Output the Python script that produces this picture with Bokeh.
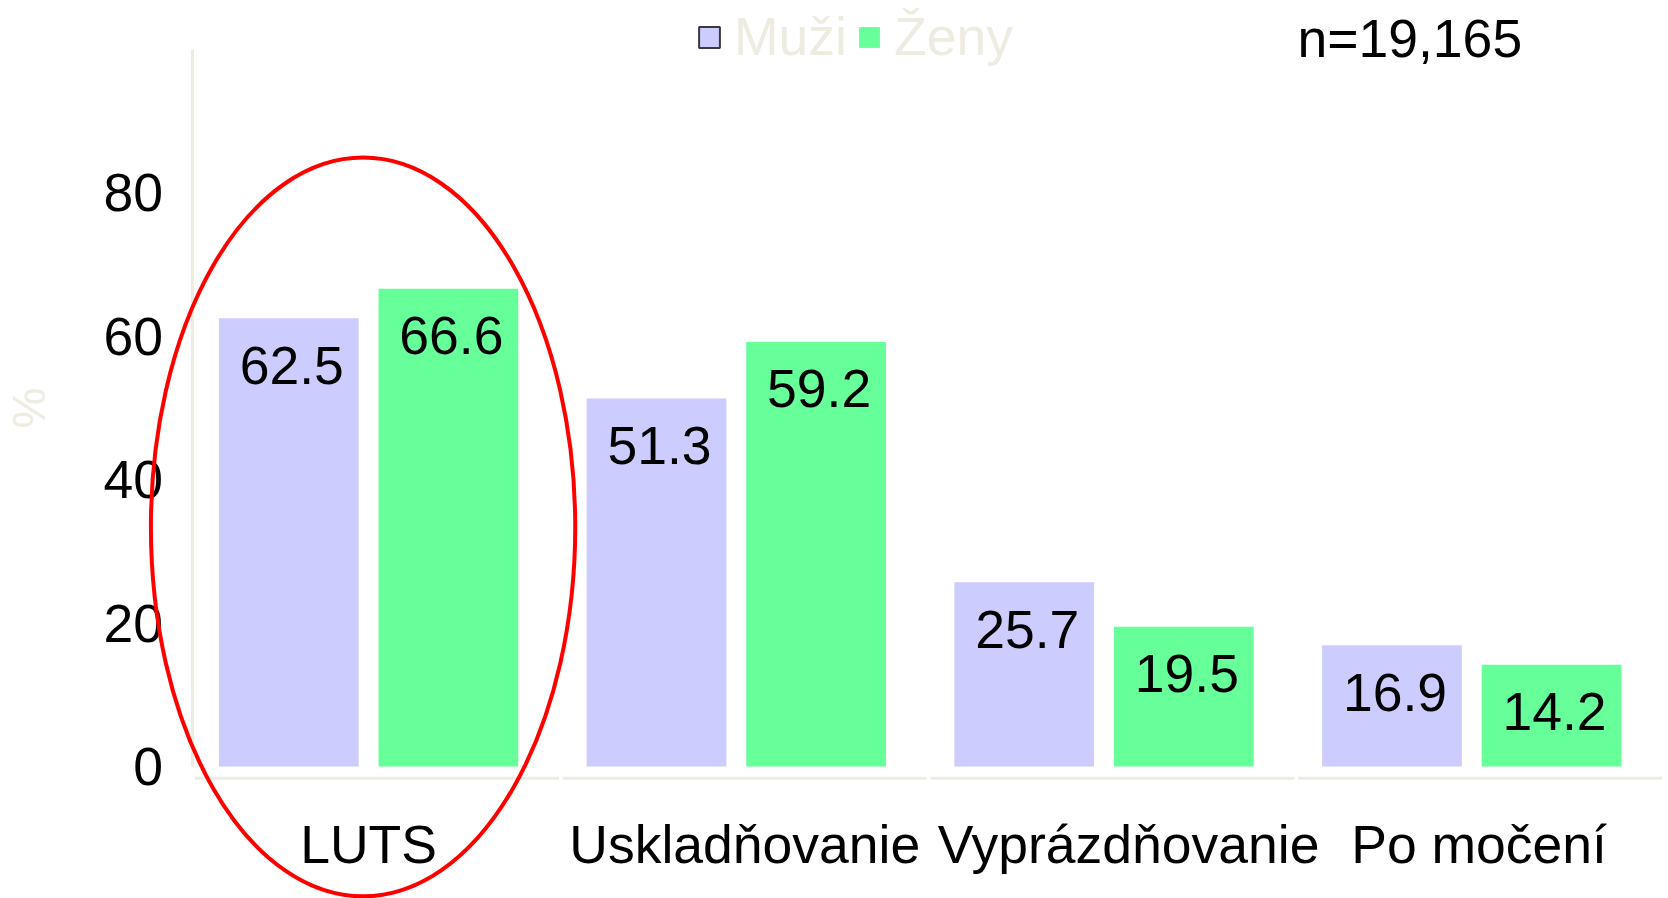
from bokeh.plotting import figure
from bokeh.models import Range1d, FixedTicker, Legend, LegendItem, Label, ColumnDataSource
from bokeh.embed import file_html
from bokeh.resources import INLINE
from bokeh.transform import dodge

# ---- data ----
categories = ["LUTS", "Uskladňovanie", "Vyprázdňovanie", "Po močení"]
series = ["Muži", "Ženy"]
muzi = [62.5, 51.3, 25.7, 16.9]
zeny = [66.6, 59.2, 19.5, 14.2]
y_ticks = [0, 20, 40, 60, 80]
y_axis_label = "%"
sample_note = "n=19,165"
highlight = "LUTS"

# ---- styles ----
FONT = "Liberation Sans"
FS = "53.5px"
C_M = "#CCCCFF"
C_Z = "#66FF99"
C_AX = "#EEECE1"
# small horizontal nudges of the category labels (style, in category widths)
LABEL_NUDGE = [0.0, 0.023, 0.067, 0.02]

idx = list(range(len(categories)))
src = ColumnDataSource(dict(
    i=idx,
    muzi=muzi,
    zeny=zeny,
    muzi_lbl=[f"{v:.1f}" for v in muzi],
    zeny_lbl=[f"{v:.1f}" for v in zeny],
))

W, H = 1668, 898
p = figure(width=W, height=H,
           x_range=Range1d(-1.001, 3.535), y_range=Range1d(-18.4, 106.8),
           output_backend="svg", toolbar_location=None, min_border=0)
p.outline_line_color = None
p.xgrid.visible = False
p.ygrid.visible = False
p.background_fill_color = "white"

OFF = 0.217
BW = 0.38
p.vbar(x=dodge("i", -OFF), top="muzi", width=BW, source=src,
       fill_color=C_M, line_color=None)
p.vbar(x=dodge("i", OFF), top="zeny", width=BW, source=src,
       fill_color=C_Z, line_color=None)

for col, off in (("muzi", -OFF), ("zeny", OFF)):
    p.text(x=dodge("i", off), y=col, text=col + "_lbl", source=src,
           x_offset=3, y_offset=47,
           text_align="center", text_baseline="middle",
           text_font={"value": FONT}, text_font_size={"value": FS},
           text_color="black")

# segmented x-axis line (one piece per category)
X_AXIS_Y = -1.62
p.segment(x0=[i - 0.472 for i in idx], x1=[i + 0.518 for i in idx],
          y0=[X_AXIS_Y] * len(idx), y1=[X_AXIS_Y] * len(idx),
          line_color=C_AX, line_width=3)

# x axis (category labels)
tick_pos = [i + n for i, n in zip(idx, LABEL_NUDGE)]
xa = p.xaxis[0]
xa.fixed_location = X_AXIS_Y
xa.ticker = FixedTicker(ticks=tick_pos)
xa.major_label_overrides = {t: c for t, c in zip(tick_pos, categories)}
xa.axis_line_color = None
xa.major_tick_line_color = None
xa.minor_tick_line_color = None
xa.major_tick_out = 0
xa.major_tick_in = 0
xa.major_label_standoff = 37
xa.major_label_text_font = FONT
xa.major_label_text_font_size = FS
xa.major_label_text_color = "black"

# y axis
ya = p.yaxis[0]
ya.fixed_location = -0.4776
ya.bounds = (0, 100)
ya.ticker = FixedTicker(ticks=y_ticks)
ya.axis_line_color = C_AX
ya.axis_line_width = 3
ya.major_tick_line_color = None
ya.minor_tick_line_color = None
ya.major_tick_out = 0
ya.major_tick_in = 0
ya.major_label_standoff = 30
ya.major_label_text_font = FONT
ya.major_label_text_font_size = FS
ya.major_label_text_color = "black"
ya.axis_label = y_axis_label
ya.axis_label_text_font = FONT
ya.axis_label_text_font_size = "46px"
ya.axis_label_text_font_style = "normal"
ya.axis_label_text_color = C_AX
ya.axis_label_standoff = 45

# legend with proxy swatches (not drawn in the plot area)
nan = float("nan")
r_m = p.vbar(x=[nan], top=[nan], width=0.1, fill_color=C_M, line_color="#3a3a3a", line_width=2)
r_z = p.vbar(x=[nan], top=[nan], width=0.1, fill_color=C_Z, line_color=None)
legend = Legend(items=[LegendItem(label=series[0], renderers=[r_m]),
                       LegendItem(label=series[1], renderers=[r_z])],
                orientation="horizontal", location=(696, 831),
                glyph_width=26, glyph_height=26, label_standoff=12, spacing=9,
                padding=0, margin=0, border_line_color=None, background_fill_alpha=0,
                label_text_font=FONT, label_text_font_size=FS, label_text_color=C_AX)
p.add_layout(legend)

p.add_layout(Label(x=1297, y=H - 38, x_units="screen", y_units="screen",
                   text=sample_note, text_font=FONT, text_font_size=FS,
                   text_baseline="middle", text_color="black"))

# highlight ellipse around LUTS
hi = categories.index(highlight)
p.ellipse(x=[hi - 0.015], y=[33.4], width=1.154, height=103,
          fill_color=None, line_color="#FF0000", line_width=4, level="overlay")

open("out.html", "w").write(file_html(p, INLINE))
